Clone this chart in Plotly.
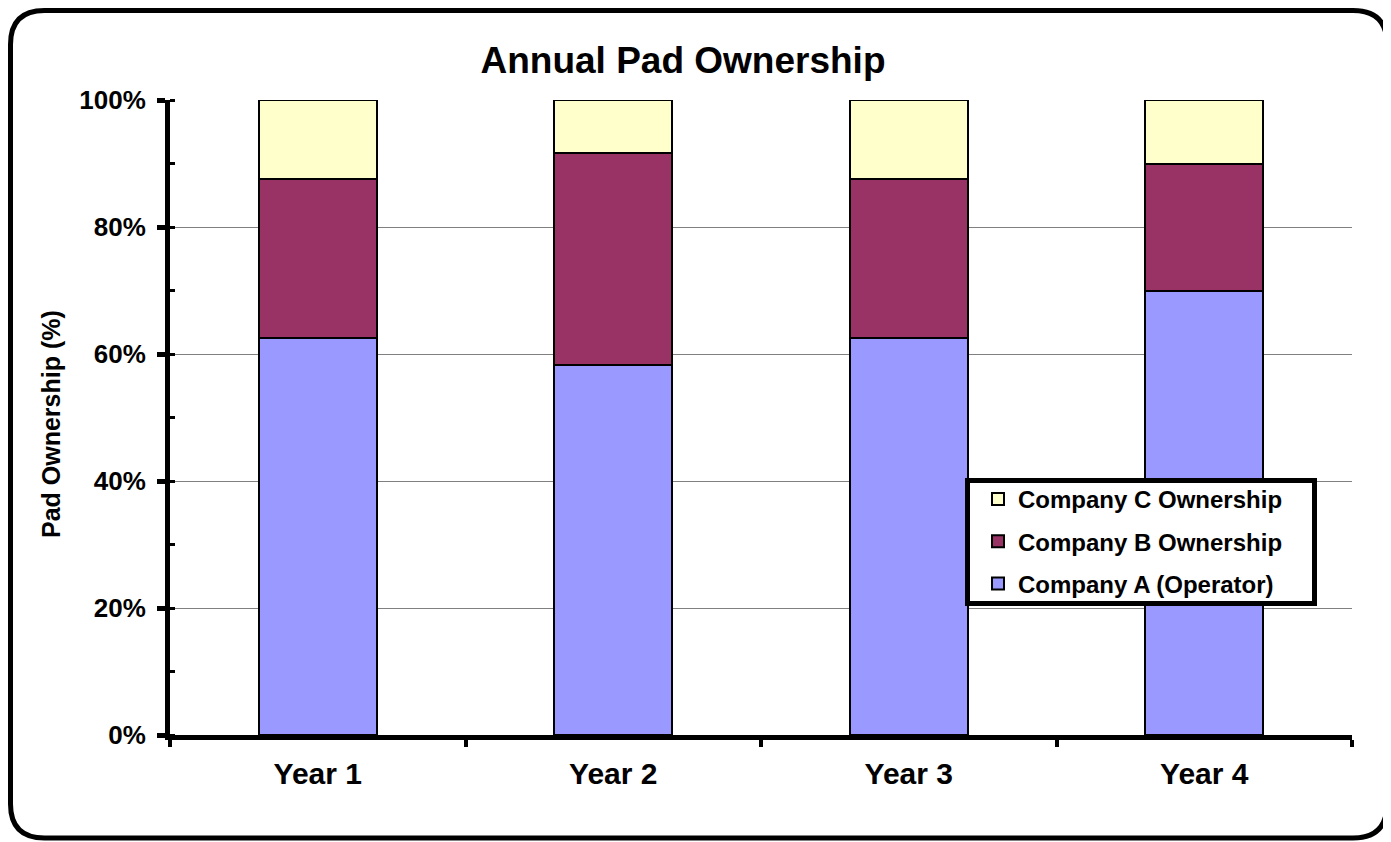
import plotly.graph_objects as go

categories = ["Year 1", "Year 2", "Year 3", "Year 4"]
company_a = [0.625, 0.583, 0.625, 0.70]
company_b = [0.25, 0.334, 0.25, 0.20]
company_c = [0.125, 0.083, 0.125, 0.10]
series_names = ["Company A (Operator)", "Company B Ownership", "Company C Ownership"]
series_colors = ["#9999FF", "#993366", "#FFFFCC"]
legend_ranks = [3, 2, 1]

FONT = "Liberation Sans, Arial, sans-serif"

fig = go.Figure()
for i, (name, vals, col) in enumerate(zip(series_names, [company_a, company_b, company_c], series_colors)):
    fig.add_trace(go.Bar(
        x=categories, y=vals, name=name, legendgroup=f"g{i}", legendrank=legend_ranks[i],
        marker=dict(color=col, line=dict(color="black", width=2)),
        width=0.4,
    ))

# page body has an 8px margin, so the figure is sized/offset accordingly
OFF = 8
W, H = 1391 - OFF, 842 - OFF
ml, mr, mt, mb = 170 - OFF, 39, 100 - OFF, 107
pw, ph = W - ml - mr, H - mt - mb


def px(x):  # x in reference pixel coords -> paper
    return (x - OFF - ml) / pw


def py(y):  # y in reference pixel coords -> paper
    return (H - mb - (y - OFF)) / ph


# rounded outer frame (reference coords)
x0, x1, y0, y1, r = 10.5, 1387, 10.5, 838, 34
path = (
    f"M {px(x0 + r)} {py(y0)} L {px(x1 - r)} {py(y0)} "
    f"Q {px(x1)} {py(y0)} {px(x1)} {py(y0 + r)} "
    f"L {px(x1)} {py(y1 - r)} Q {px(x1)} {py(y1)} {px(x1 - r)} {py(y1)} "
    f"L {px(x0 + r)} {py(y1)} Q {px(x0)} {py(y1)} {px(x0)} {py(y1 - r)} "
    f"L {px(x0)} {py(y0 + r)} Q {px(x0)} {py(y0)} {px(x0 + r)} {py(y0)} Z"
)

fig.update_layout(
    width=W, height=H,
    margin=dict(l=ml, r=mr, t=mt, b=mb),
    paper_bgcolor="white", plot_bgcolor="white",
    barmode="stack", bargap=0.6,
    font=dict(family=FONT, color="black"),
    title=dict(text="<b>Annual Pad Ownership</b>", x=px(683), xanchor="center", xref="paper",
               y=1 - (60 - OFF) / H, yanchor="middle", font=dict(size=37, family=FONT)),
    showlegend=True,
    legend=dict(
        x=px(978), y=py(477), xanchor="left", yanchor="top",
        tracegroupgap=8,
        borderwidth=0, bgcolor="rgba(0,0,0,0)",
        font=dict(size=24, family=FONT, weight="bold"),
        itemwidth=30,
    ),
    xaxis=dict(
        type="category", range=[-0.5, 3.5],
        showline=True, linecolor="black", linewidth=5,
        ticks="outside", tickson="boundaries", ticklen=7, tickwidth=4, tickcolor="black",
        tickfont=dict(size=30, family=FONT, weight="bold"),
        ticklabelstandoff=8,
        showgrid=False, zeroline=False,
    ),
    yaxis=dict(
        range=[0, 1], dtick=0.2, tickformat=".0%",
        showline=True, linecolor="black", linewidth=5,
        ticks="outside", ticklen=8, tickwidth=5, tickcolor="black",
        tickfont=dict(size=26, family=FONT, weight="bold"),
        ticklabelstandoff=6,
        showgrid=True, gridcolor="#808080", gridwidth=1,
        zeroline=False,
        minor=dict(dtick=0.1, ticks="inside", ticklen=5, tickwidth=3, tickcolor="black", showgrid=False),
    ),
    annotations=[
        dict(text="<b>Pad Ownership (%)</b>", textangle=-90, xref="paper", yref="paper",
             x=px(51), y=py(424), xanchor="center", yanchor="middle", showarrow=False,
             font=dict(size=25, family=FONT)),
    ],
    shapes=[
        dict(type="path", xref="paper", yref="paper", path=path,
             line=dict(color="black", width=5), layer="above"),
        dict(type="rect", xref="paper", yref="paper",
             x0=px(967.5), x1=px(1314.5), y0=py(603.5), y1=py(480.5),
             fillcolor="white", line=dict(color="black", width=5), layer="above"),
    ],
)

fig.write_html("out.html")
